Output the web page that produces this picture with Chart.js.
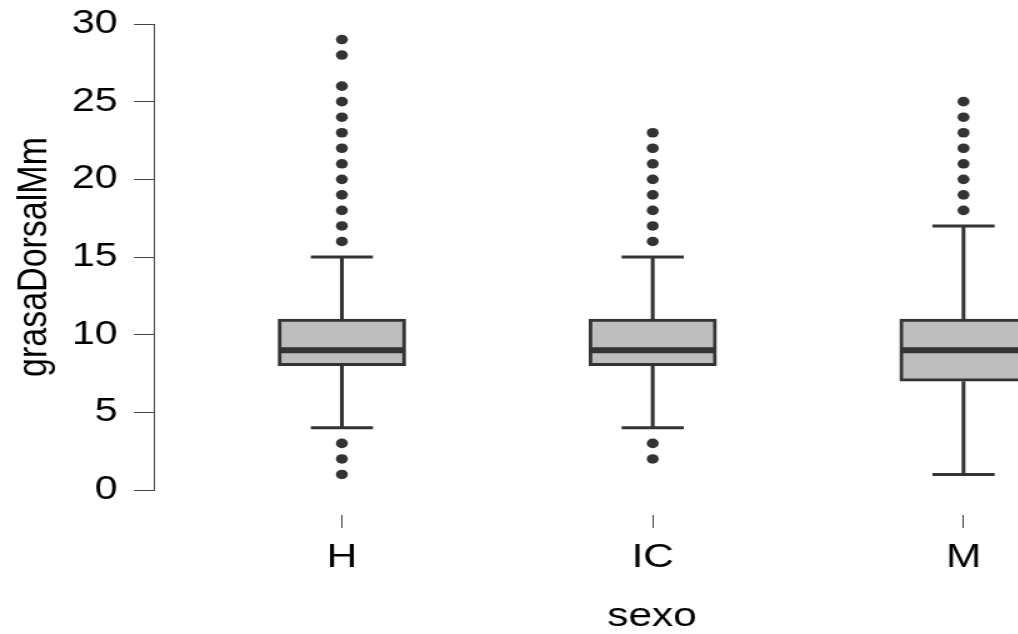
<!DOCTYPE html>
<html><head><meta charset="utf-8">
<script src="https://cdn.jsdelivr.net/npm/chart.js@4"></script>
<style>
html,body{margin:0;padding:0;background:#fff;overflow:hidden}
#wrap{width:1018px;height:634px;overflow:hidden;position:relative;background:#fff}
</style></head><body>
<div id="wrap"><canvas id="c" width="960" height="634" style="position:absolute;left:0;top:0;width:1200px;height:634px"></canvas></div>
<script>
// ---- data ----
const categories = ['H', 'IC', 'M'];
const q1 = [8, 8, 7];
const median = [9, 9, 9];
const q3 = [11, 11, 11];
const whiskerLow = [4, 4, 1];
const whiskerHigh = [15, 15, 17];
const outliersH = [29, 28, 26, 25, 24, 23, 22, 21, 20, 19, 18, 17, 16, 3, 2, 1];
const outliersIC = [23, 22, 21, 20, 19, 18, 17, 16, 3, 2];
const outliersM = [25, 24, 23, 22, 21, 20, 19, 18];
const yTicks = [0, 5, 10, 15, 20, 25, 30];
const yAxisLabel = 'grasaDorsalMm';
const xAxisLabel = 'sexo';

// ---- styling constants ----
const BOX_HALF = 0.2, CAP_HALF = 0.1;
const INK = '#333333';
const FONT = 'Liberation Sans, Arial, Helvetica, sans-serif';

const outlierLists = [outliersH, outliersIC, outliersM];
const boxData = categories.map((c, i) => ({x: i + 1, y: [q1[i], q3[i]]}));
const medianData = [];
const whiskerData = [];
categories.forEach((c, i) => {
  const cx = i + 1;
  medianData.push({x: cx - BOX_HALF, y: median[i]}, {x: cx + BOX_HALF, y: median[i]}, {x: cx, y: null});
  whiskerData.push(
    {x: cx, y: q3[i]}, {x: cx, y: whiskerHigh[i]}, {x: cx, y: null},
    {x: cx - CAP_HALF, y: whiskerHigh[i]}, {x: cx + CAP_HALF, y: whiskerHigh[i]}, {x: cx, y: null},
    {x: cx, y: q1[i]}, {x: cx, y: whiskerLow[i]}, {x: cx, y: null},
    {x: cx - CAP_HALF, y: whiskerLow[i]}, {x: cx + CAP_HALF, y: whiskerLow[i]}, {x: cx, y: null}
  );
});
const outlierData = [];
outlierLists.forEach((list, i) => list.forEach(v => outlierData.push({x: i + 1, y: v})));

new Chart(document.getElementById('c'), {
  type: 'scatter',
  data: {
    datasets: [
      {type: 'scatter', data: outlierData, pointRadius: 4.8, pointBackgroundColor: INK, pointBorderWidth: 0, order: 0, clip: false},
      {type: 'line', data: medianData, borderColor: INK, borderWidth: 6, pointRadius: 0, spanGaps: false, borderCapStyle: 'butt', order: 1},
      {type: 'line', data: whiskerData, borderColor: INK, borderWidth: 3, pointRadius: 0, spanGaps: false, borderCapStyle: 'butt', order: 2},
      {type: 'bar', data: boxData, backgroundColor: '#bebebe', borderColor: INK, borderWidth: 3, borderSkipped: false, barThickness: 102, order: 3}
    ]
  },
  options: {
    responsive: false,
    devicePixelRatio: 1,
    animation: false,
    layout: {padding: {top: 24, right: 40, bottom: 0, left: 0}},
    plugins: {legend: {display: false}, tooltip: {enabled: false}},
    scales: {
      x: {
        type: 'linear', min: 0.3955, max: 3.60, offset: false,
        afterBuildTicks: s => { s.ticks = categories.map((c, i) => ({value: i + 1})); },
        afterFit: s => { s.height = 144; s.paddingLeft = 0; s.paddingRight = 0; },
        ticks: {callback: v => categories[Math.round(v) - 1], font: {family: FONT, size: 34}, color: '#000', padding: 9, maxRotation: 0, autoSkip: false},
        grid: {offset: false, drawOnChartArea: false, drawTicks: true, tickLength: 38, tickColor: '#444', tickWidth: 1, tickBorderDash: [0, 25, 13, 1000]},
        border: {display: false},
        title: {display: true, text: xAxisLabel, font: {family: FONT, size: 34, lineHeight: 1}, color: '#000', padding: {top: 0, bottom: 0}}
      },
      y: {
        type: 'linear', min: 0, max: 30, offset: false,
        afterBuildTicks: s => { s.ticks = yTicks.map(v => ({value: v})); },
        afterFit: s => { s.width = 123.2; s.paddingTop = 0; s.paddingBottom = 0; },
        ticks: {font: {family: FONT, size: 33}, color: '#000', padding: 13},
        grid: {drawOnChartArea: false, drawTicks: true, tickLength: 16, tickColor: '#444', tickWidth: 1},
        border: {display: true, color: '#444', width: 1},
        title: {display: true, text: yAxisLabel, font: {family: FONT, size: 34}, color: '#000', padding: {top: 7, bottom: 0}}
      }
    }
  }
});
</script>
</body></html>
